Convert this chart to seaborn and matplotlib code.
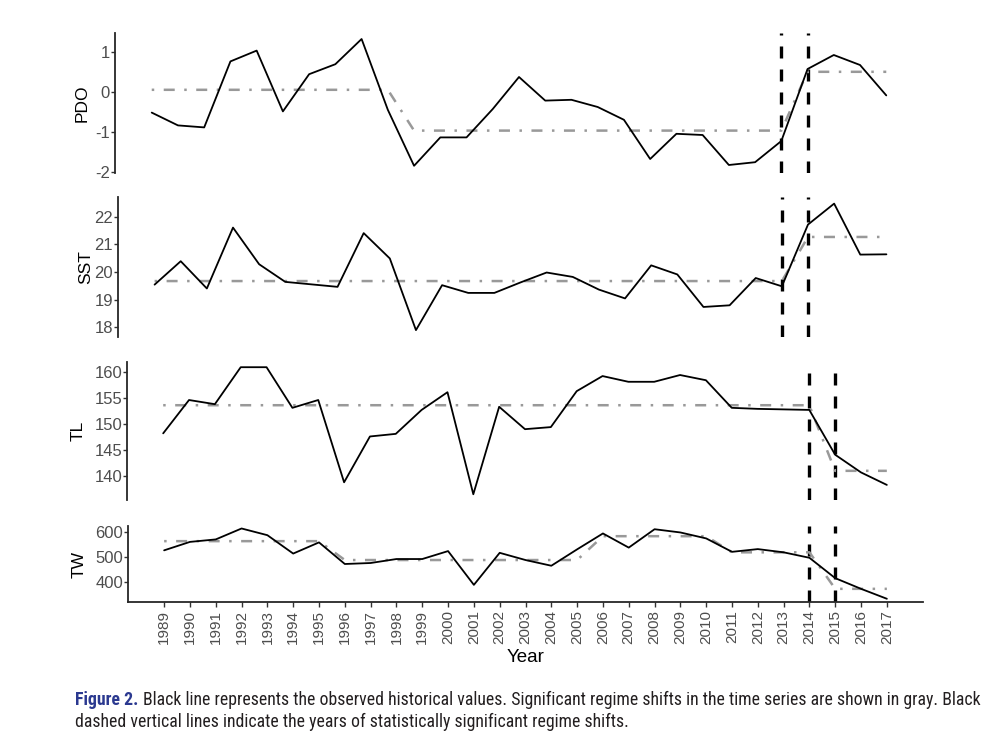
import matplotlib
matplotlib.use("Agg")
import matplotlib.pyplot as plt
from matplotlib import font_manager
import seaborn as sns
import pandas as pd

# observed series, 1989-2017
years = list(range(1989, 2018))
pdo = [-0.52, -0.84, -0.89, 0.76, 1.03, -0.49, 0.44, 0.69, 1.32, -0.45,
       -1.85, -1.14, -1.14, -0.43, 0.37, -0.22, -0.20, -0.38, -0.70, -1.68,
       -1.05, -1.08, -1.83, -1.76, -1.23, 0.57, 0.92, 0.67, -0.09]
sst = [19.54, 20.39, 19.40, 21.61, 20.28, 19.64, 19.55, 19.46, 21.41, 20.49,
       17.89, 19.52, 19.24, 19.24, 19.62, 19.98, 19.82, 19.36, 19.04, 20.24,
       19.91, 18.73, 18.79, 19.78, 19.48, 21.72, 22.48, 20.63, 20.64]
tl = [148.2, 154.6, 153.8, 160.9, 160.9, 153.1, 154.6, 138.8, 147.6, 148.1,
      152.7, 156.1, 136.5, 153.3, 149.0, 149.4, 156.3, 159.2, 158.1, 158.1,
      159.4, 158.4, 153.1, 152.9, 152.8, 152.7, 144.1, 140.7, 138.3]
tw = [528, 562, 572, 616, 589, 515, 560, 473, 477, 493,
      493, 525, 389, 518, 489, 466, 532, 596, 539, 613,
      600, 576, 522, 533, 520, 498, 416, 373, 333]

# regime means (gray)
pdo_regime = [0.05] * 10 + [-0.97] * 15 + [0.50] * 4
sst_regime = [19.67] * 25 + [21.27] * 4
tl_regime = [153.6] * 26 + [141.0] * 3
tw_regime = [565] * 7 + [489] * 10 + [585] * 5 + [520] * 4 + [373] * 3

# years of significant shifts
pdo_shifts = [2013, 2014]
sst_shifts = [2013, 2014]
tl_shifts = [2014, 2015]
tw_shifts = [2014, 2015]

pdo_ticks = [-2, -1, 0, 1]
sst_ticks = [18, 19, 20, 21, 22]
tl_ticks = [140, 145, 150, 155, 160]
tw_ticks = [400, 500, 600]

caption_head = "Figure 2."
caption_1 = ("Black line represents the observed historical values. Significant regime "
             "shifts in the time series are shown in gray. Black")
caption_2 = "dashed vertical lines indicate the years of statistically significant regime shifts."

df = pd.DataFrame({"Year": years, "PDO": pdo, "SST": sst, "TL": tl, "TW": tw,
                   "PDO_r": pdo_regime, "SST_r": sst_regime,
                   "TL_r": tl_regime, "TW_r": tw_regime})

sns.set_style("ticks")
plt.rcParams["font.family"] = ["Liberation Sans", "DejaVu Sans"]
plt.rcParams["axes.unicode_minus"] = False

installed = {f.name for f in font_manager.fontManager.ttflist}
cap_font = "Open Sans"
for name in ["Liberation Sans Narrow", "Roboto Condensed", "Open Sans Condensed"]:
    if name in installed:
        cap_font = name
        break

fig = plt.figure(figsize=(10, 7.38), dpi=100)
W, H = 1000, 738

# (left, top, right, bottom) in pixels, label right edge
panels = [
    ("PDO", "PDO_r", pdo_shifts, pdo_ticks, (-2.03, 1.47), (115, 33, 923, 173), 90),
    ("SST", "SST_r", sst_shifts, sst_ticks, (17.64, 22.72), (118, 197, 923, 337), 93),
    ("TL", "TL_r", tl_shifts, tl_ticks, (135.4, 161.9), (127, 362, 923, 500), 86),
    ("TW", "TW_r", tw_shifts, tw_ticks, (320, 626), (128, 526, 923, 602), 87),
]

gray_style = (0, (1.0, 3.8, 4.4, 3.8))
vline_style = (0, (3.6, 3.3))

axes = []
for i, (col, rcol, shifts, ticks, ylim, (l, t, r, b), lab_x) in enumerate(panels):
    ax = fig.add_axes([l / W, 1 - b / H, (r - l) / W, (b - t) / H])
    for s in shifts:
        ax.axvline(s, color="black", lw=2.4, linestyle=vline_style, zorder=1)
    sns.lineplot(data=df, x="Year", y=col, ax=ax, color="black", lw=1.3, zorder=3)
    sns.lineplot(data=df, x="Year", y=rcol, ax=ax, color="#999999", lw=1.8,
                 linestyle=gray_style, dash_capstyle="butt", zorder=2)
    ax.set_xlim(1987.6, 2018.4)
    ax.set_ylim(*ylim)
    ax.set_yticks(ticks)
    ax.set_ylabel(col, fontsize=12.5, color="black")
    ax.yaxis.set_label_coords(lab_x / W, 1 - (t + b) / 2 / H, transform=fig.transFigure)
    ax.tick_params(axis="y", length=2.6, width=1.0, color="#333333",
                   labelsize=12, labelcolor="#4d4d4d", pad=1)
    for sp in ["top", "right"]:
        ax.spines[sp].set_visible(False)
    ax.spines["left"].set_linewidth(1.3)
    if i < len(panels) - 1:
        ax.spines["bottom"].set_visible(False)
        ax.tick_params(axis="x", bottom=False, labelbottom=False)
        ax.set_xlabel("")
    else:
        ax.spines["bottom"].set_linewidth(1.3)
        ax.set_xticks(years)
        ax.set_xticklabels([str(y) for y in years], rotation=90)
        ax.tick_params(axis="x", length=3.5, width=1.0, color="#333333",
                       labelsize=11, labelcolor="#4d4d4d", pad=2)
        ax.set_xlabel("Year", fontsize=13.5, color="black", labelpad=4)
    axes.append(ax)

# caption
fig.canvas.draw()
renderer = fig.canvas.get_renderer()
cap_size = 12.8
t_head = fig.text(75 / W, 1 - 705 / H, caption_head, fontsize=cap_size, family=cap_font,
                  weight="bold", color="#2b3990", va="baseline")
bb = t_head.get_window_extent(renderer)
fig.text((bb.x1 + 5) / W, 1 - 705 / H, caption_1, fontsize=cap_size, family=cap_font,
         color="#231f20", va="baseline")
fig.text(75 / W, 1 - 727 / H, caption_2, fontsize=cap_size, family=cap_font,
         color="#231f20", va="baseline")

fig.savefig("out.png", dpi=100)
